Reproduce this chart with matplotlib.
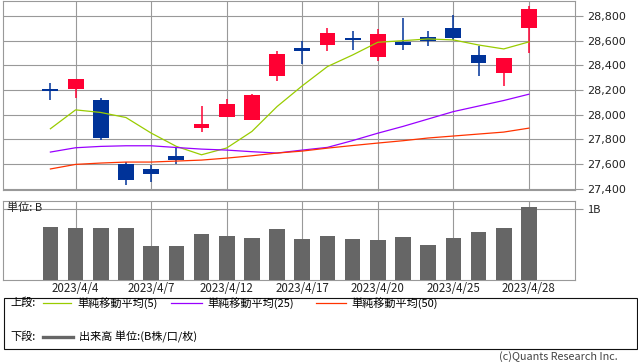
import matplotlib
matplotlib.use('Agg')
import matplotlib.pyplot as plt
from matplotlib.patches import Rectangle

# daily candles (price index)
dates = ['2023/4/3', '2023/4/4', '2023/4/5', '2023/4/6', '2023/4/7',
         '2023/4/10', '2023/4/11', '2023/4/12', '2023/4/13', '2023/4/14',
         '2023/4/17', '2023/4/18', '2023/4/19', '2023/4/20', '2023/4/21',
         '2023/4/24', '2023/4/25', '2023/4/26', '2023/4/27', '2023/4/28']
opens  = [28209, 28212, 28115, 27597, 27562, 27667, 27896, 27985, 27953, 28317,
          28541, 28568, 28622, 28471, 28592, 28630, 28700, 28484, 28341, 28705]
highs  = [28258, 28290, 28137, 27613, 27595, 27740, 28072, 28128, 28169, 28517,
          28600, 28703, 28679, 28695, 28786, 28679, 28808, 28560, 28460, 28883]
lows   = [28115, 28139, 27791, 27427, 27457, 27597, 27856, 27985, 27953, 28277,
          28412, 28519, 28525, 28438, 28525, 28560, 28606, 28315, 28234, 28498]
closes = [28188, 28287, 27813, 27473, 27518, 27634, 27923, 28083, 28157, 28493,
          28515, 28659, 28607, 28658, 28564, 28594, 28620, 28416, 28458, 28856]

# moving averages
ma5  = [27886, 28039, 28018, 27977, 27851, 27743, 27675, 27730, 27864, 28066,
        28234, 28390, 28484, 28587, 28600, 28614, 28606, 28565, 28533, 28590]
ma25 = [27697, 27732, 27743, 27748, 27748, 27734, 27721, 27713, 27700, 27689,
        27713, 27735, 27790, 27850, 27905, 27965, 28025, 28070, 28115, 28166]
ma50 = [27560, 27597, 27608, 27616, 27616, 27624, 27632, 27648, 27667, 27689,
        27705, 27729, 27750, 27770, 27789, 27811, 27827, 27843, 27859, 27891]

# volume (B)
volume = [0.746, 0.732, 0.732, 0.732, 0.479, 0.479, 0.648, 0.620, 0.592, 0.718,
          0.577, 0.620, 0.577, 0.563, 0.606, 0.493, 0.592, 0.676, 0.732, 1.028]

tick_idx = [1, 4, 7, 10, 13, 16, 19]
price_ticks = [27400, 27600, 27800, 28000, 28200, 28400, 28600, 28800]

UP, DOWN = '#ff0033', '#003399'
GRID = '#999999'
CJK = ['Noto Sans CJK JP', 'DejaVu Sans']

W, H = 638, 362
fig = plt.figure(figsize=(W / 100, H / 100), dpi=100)

# legend / frame layer in pixel coords
lax = fig.add_axes([0, 0, 1, 1])
lax.set_xlim(0, W)
lax.set_ylim(H, 0)
lax.axis('off')

ax = fig.add_axes([3.3 / W, 1 - 190 / H, 571.2 / W, 189.5 / H])
vax = fig.add_axes([3.3 / W, 1 - 280 / H, 571.2 / W, 79 / H])

x = list(range(len(dates)))

## candles
colors = [UP if c >= o else DOWN for o, c in zip(opens, closes)]
ax.vlines(x, lows, highs, colors=colors, lw=1.1, zorder=3)
bottoms = [min(o, c) for o, c in zip(opens, closes)]
heights = [abs(c - o) for o, c in zip(opens, closes)]
ax.bar(x, heights, bottom=bottoms, width=0.63, color=colors, zorder=4)

ax.plot(x, ma5, color='#99cc00', lw=0.9, zorder=5)
ax.plot(x, ma25, color='#9900ff', lw=0.9, zorder=5)
ax.plot(x, ma50, color='#ff3300', lw=0.9, zorder=5)

xlim = (-1.87, 20.81)
ax.set_xlim(*xlim)
ax.set_ylim(27389.5, 28925.6)
ax.set_xticks(tick_idx)
ax.set_yticks(price_ticks)
ax.set_yticklabels([f'{v:,}' for v in price_ticks])
ax.yaxis.tick_right()
ax.tick_params(axis='x', length=0, labelbottom=False)
ax.tick_params(axis='y', length=6, color=GRID, width=0.8, pad=3,
               labelsize=8, labelcolor='#222222')
ax.grid(True, color=GRID, lw=0.8)
ax.set_axisbelow(True)

## volume
vax.bar(x, volume, width=0.62, color='#666666', zorder=3)
vax.set_xlim(*xlim)
vax.set_ylim(0, 1.113)
vax.set_xticks(tick_idx)
vax.set_xticklabels([dates[i] for i in tick_idx], family=CJK, fontsize=8.3)
vax.set_yticks([1.0])
vax.set_yticklabels(['1B'], family=CJK, fontsize=8)
vax.yaxis.tick_right()
vax.tick_params(axis='x', length=0, pad=1.5, labelcolor='#222222')
vax.tick_params(axis='y', length=6, color=GRID, width=0.8, pad=3, labelcolor='#222222')
vax.grid(True, color=GRID, lw=0.8)
vax.set_axisbelow(True)
vax.text(0.006, 0.91, '単位: B', transform=vax.transAxes, family=CJK,
         fontsize=8, va='center', ha='left', color='#222222', zorder=6)

for a in (ax, vax):
    for s in a.spines.values():
        s.set_color(GRID)
        s.set_linewidth(0.8)

## legend box
lax.add_patch(Rectangle((3.5, 297.5), 633, 51, fill=False, ec='#111111', lw=0.8))
fs = 8
lax.text(10, 303, '上段:', family=CJK, fontsize=fs, va='center')
for (x0, x1, tx, col, lab) in [(43, 71, 77.5, '#99cc00', '単純移動平均(5)'),
                               (171, 202, 207, '#9900ff', '単純移動平均(25)'),
                               (316, 346, 351, '#ff3300', '単純移動平均(50)')]:
    lax.plot([x0, x1], [303, 303], color=col, lw=0.9)
    lax.text(tx, 303, lab, family=CJK, fontsize=fs, va='center')
lax.text(10, 337, '下段:', family=CJK, fontsize=fs, va='center')
lax.plot([43, 73], [337, 337], color='#666666', lw=2.4)
lax.text(79, 337, '出来高 単位:(B株/口/枚)', family=CJK, fontsize=fs, va='center')

lax.text(618, 357, '(c)Quants Research Inc.', family=CJK, fontsize=7.8,
         va='center', ha='right', color='#444444')

fig.savefig('out.png', dpi=100)
